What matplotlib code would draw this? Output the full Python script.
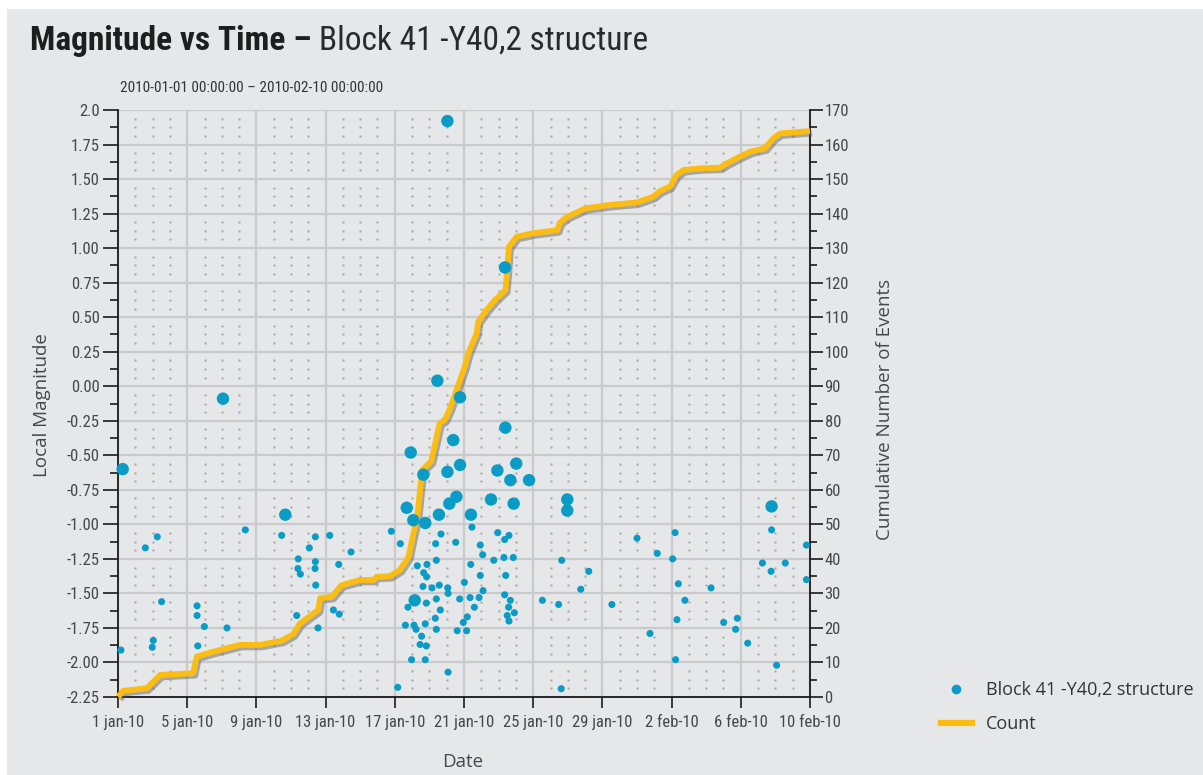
"""Magnitude vs time chart for the Block 41 -Y40,2 structure."""

import numpy as np
import matplotlib
matplotlib.use('Agg')
import matplotlib.pyplot as plt
import matplotlib.patheffects as pe
from matplotlib import font_manager
from matplotlib.lines import Line2D
from matplotlib.patches import Rectangle

# x values are days since 2010-01-01 00:00:00
x_ticks = [0, 4, 8, 12, 16, 20, 24, 28, 32, 36, 40]
x_labels = ['1 jan-10', '5 jan-10', '9 jan-10', '13 jan-10', '17 jan-10',
            '21 jan-10', '25 jan-10', '29 jan-10', '2 feb-10', '6 feb-10',
            '10 feb-10']

# larger events
big_days = [0.27, 6.07, 9.67, 16.69, 16.92, 17.07, 17.15, 17.65, 17.76, 18.46,
            18.55, 19.04, 19.04, 19.15, 19.38, 19.56, 19.77, 19.77, 20.40, 21.56,
            21.93, 22.37, 22.39, 22.68, 22.87, 23.02, 23.76, 25.97, 25.97, 37.78]
big_mags = [-0.60, -0.09, -0.93, -0.88, -0.48, -0.97, -1.55, -0.64, -0.99, 0.04,
            -0.93, 1.92, -0.62, -0.85, -0.39, -0.80, -0.08, -0.57, -0.93, -0.82,
            -0.61, 0.86, -0.30, -0.68, -0.85, -0.56, -0.68, -0.82, -0.90, -0.87]

# smaller events
small_days = [15.80, 16.32, 18.67, 18.36, 19.52, 20.46, 21.95, 22.60, 22.35, 20.94,
              21.08, 21.72, 22.31, 22.85, 18.40, 17.86, 17.30, 20.39, 17.67, 17.84,
              20.94, 22.41, 25.65, 20.02, 17.63, 18.15, 18.57, 19.06, 19.08, 21.10,
              22.35, 22.68, 19.75, 20.35, 20.87, 18.40, 17.82, 16.76, 18.63, 20.60,
              22.58, 22.91, 24.53, 25.47, 26.75, 20.19, 19.96, 18.34, 22.50, 22.60,
              17.76, 16.61, 17.11, 17.23, 18.40, 19.61, 20.15, 17.55, 17.46, 17.82,
              16.97, 17.76, 19.08, 16.17, 25.62,
              7.36, 2.27, 1.58, 9.46, 11.41, 12.24, 11.06, 13.47, 10.42, 11.41,
              10.40, 11.39, 10.54, 12.76, 11.43, 2.52, 4.57, 4.57, 4.99, 6.30,
              2.04, 1.98, 0.17, 4.61, 10.33, 12.45, 12.79, 11.56,
              32.20, 30.00, 31.17, 32.06, 37.78, 39.79, 37.25, 37.75, 38.57, 39.79,
              27.21, 32.39, 34.28, 28.55, 32.77, 32.31, 35.01, 35.80, 35.70, 30.75,
              36.40, 32.23, 38.07]
small_mags = [-1.05, -1.14, -1.07, -1.14, -1.13, -1.02, -1.06, -1.08, -1.11, -1.15,
              -1.22, -1.26, -1.24, -1.24, -1.26, -1.29, -1.30, -1.29, -1.35, -1.38,
              -1.37, -1.37, -1.26, -1.42, -1.45, -1.46, -1.44, -1.46, -1.50, -1.48,
              -1.51, -1.55, -1.54, -1.53, -1.53, -1.54, -1.57, -1.60, -1.62, -1.60,
              -1.60, -1.64, -1.55, -1.58, -1.47, -1.67, -1.71, -1.68, -1.66, -1.70,
              -1.72, -1.73, -1.73, -1.76, -1.76, -1.77, -1.77, -1.81, -1.87, -1.88,
              -1.98, -1.98, -2.07, -2.18, -2.19,
              -1.04, -1.09, -1.17, -1.08, -1.09, -1.08, -1.17, -1.20, -1.25, -1.27,
              -1.32, -1.32, -1.36, -1.29, -1.44, -1.56, -1.59, -1.66, -1.74, -1.75,
              -1.84, -1.89, -1.91, -1.88, -1.66, -1.62, -1.65, -1.75,
              -1.06, -1.10, -1.21, -1.25, -1.04, -1.15, -1.28, -1.34, -1.28, -1.40,
              -1.34, -1.43, -1.46, -1.58, -1.55, -1.69, -1.71, -1.68, -1.76, -1.79,
              -1.86, -1.98, -2.02]

# cumulative number of events
count_days = [0.0, 0.3, 1.65, 2.45, 4.35, 4.55, 5.5, 7.05, 8.2, 9.46,
              10.13, 10.52, 11.58, 11.68, 12.35, 12.93, 13.99, 14.76, 14.95, 15.72,
              16.3, 16.8, 17.0, 17.3, 17.5, 17.6, 18.1, 18.6, 18.9, 19.2,
              20.05, 20.25, 20.73, 20.83, 21.3, 21.8, 22.4, 22.5, 22.6, 23.05,
              24.0, 25.4, 25.55, 25.94, 26.5, 27.0, 28.44, 29.98, 30.94, 31.33,
              31.91, 32.29, 32.68, 33.64, 34.8, 35.18, 35.95, 36.53, 37.4, 37.88,
              38.27, 40.0]
count_vals = [0, 1.8, 2.5, 6.4, 6.9, 11.7, 13.1, 15.1, 15.1, 16.3,
              18.2, 21.3, 25.2, 28.6, 29.0, 32.4, 33.9, 33.9, 34.8, 35.0,
              36.8, 40.6, 45.5, 52.2, 61.9, 65.8, 68.2, 79.3, 80.3, 83.6,
              95.7, 99.5, 105.3, 108.7, 112.1, 115.0, 117.9, 123.7, 130.4, 133.3,
              134.3, 135.2, 137.4, 139.0, 140.3, 141.5, 142.5, 143.2, 144.9, 146.5,
              147.8, 151.2, 152.6, 153.1, 153.3, 154.5, 156.5, 157.9, 158.9, 161.8,
              163.2, 163.9]

BG = '#e6e7e8'
GRID = '#c9cacc'
DOTS = '#a3a3a3'
BLUE = '#0a9cc6'
YELLOW = '#fbbd14'
TXT = '#474747'

available = {f.name for f in font_manager.fontManager.ttflist}


def pick(*names):
    for n in names:
        if n in available:
            return n
    return 'DejaVu Sans'


TICK_FONT = [pick('Roboto Condensed', 'Archivo Narrow', 'Fira Sans Condensed'), 'DejaVu Sans']
TITLE_FONT = [pick('Roboto Condensed', 'Barlow Semi Condensed', 'Fira Sans Condensed'),
              'DejaVu Sans']
LABEL_FONT = [pick('Open Sans', 'Noto Sans'), 'DejaVu Sans']
plt.rcParams['font.family'] = TICK_FONT

W, H = 1203, 775
fig = plt.figure(figsize=(W / 100, H / 100), dpi=100)
fig.patch.set_facecolor('white')
fig.add_artist(Rectangle((7 / W, 0), 1, 1 - 9 / H, transform=fig.transFigure,
                         facecolor=BG, edgecolor='none', zorder=-10))

# base axes: grid, dotted lattice and cumulative count (right axis)
ax_c = fig.add_axes([118 / W, 1 - 697 / H, 692 / W, 587 / H])
ax_c.set_facecolor(BG)
ax_c.set_xlim(0, 40)
ax_c.set_ylim(0, 170)
ax_c.set_axisbelow(True)
ax_c.grid(True, which='major', color=GRID, lw=1.6)

minor_days = [d for d in range(41) if d % 4]
lattice = [v for v in np.arange(0, 170, 2.5) if v % 10]
gx, gy = np.meshgrid(minor_days, lattice)
ax_c.plot(gx.ravel(), gy.ravel(), ls='none', marker='s', ms=1.4,
          mec='none', mfc=DOTS, zorder=0.8)

ax_c.plot(count_days, count_vals, color=YELLOW, lw=4.2, zorder=3,
          solid_joinstyle='round', solid_capstyle='butt', clip_on=False,
          path_effects=[pe.SimpleLineShadow(offset=(1.5, -1.8), shadow_color='#555555',
                                            alpha=0.45),
                        pe.Normal()])

# magnitude axes on top so events sit above the count line
ax_m = ax_c.twinx()
ax_c.yaxis.tick_right()
ax_c.yaxis.set_label_position('right')
ax_m.yaxis.tick_left()
ax_m.set_ylim(-2.25, 2.0)
mag_ticks = np.arange(-2.25, 2.01, 0.25)
mag_labels = [f'{v:.2f}'.replace('-0.00', '0.00') for v in mag_ticks]
mag_labels[-1] = '2.0'
ax_m.set_yticks(mag_ticks)
ax_m.set_yticklabels(mag_labels)
ax_m.set_yticks(np.arange(-2.125, 2.0, 0.25), minor=True)

ax_m.scatter(small_days, small_mags, s=26, color=BLUE, edgecolors='none',
             zorder=4, clip_on=False)
ax_m.scatter(big_days, big_mags, s=80, color=BLUE, edgecolors='none',
             zorder=4, clip_on=False)

ax_c.set_xticks(x_ticks)
ax_c.set_xticklabels(x_labels)
ax_c.set_yticks(range(0, 171, 10))
ax_c.set_yticks(range(5, 170, 10), minor=True)

for ax in (ax_c, ax_m):
    for s in ax.spines.values():
        s.set_visible(False)
for side in ('left', 'right', 'bottom'):
    ax_c.spines[side].set_visible(True)
    ax_c.spines[side].set_color('#1a1a1a')
    ax_c.spines[side].set_linewidth(1.3)

ax_m.tick_params(axis='y', which='major', length=11, width=1.2, pad=2,
                 labelsize=12, labelcolor=TXT, color='#1a1a1a')
ax_m.tick_params(axis='y', which='minor', length=5.5, width=1.2, color='#1a1a1a')
ax_c.tick_params(axis='y', which='major', length=9, width=1.2, pad=1.5,
                 labelsize=12, labelcolor=TXT, color='#1a1a1a')
ax_c.tick_params(axis='y', which='minor', length=5, width=1.2, color='#1a1a1a')
ax_c.tick_params(axis='x', which='major', length=8, width=1.2, pad=5,
                 labelsize=12, labelcolor=TXT, color='#1a1a1a')

# texts
fig.text(120 / W, 1 - 88 / H, '2010-01-01 00:00:00 \u2013 2010-02-10 00:00:00',
         fontsize=11, color='#333333', va='center', ha='left')
fig.text(42 / W, 1 - 405 / H, 'Local Magnitude', rotation=90, fontsize=13.5,
         family=LABEL_FONT, color=TXT, ha='center', va='center')
fig.text(885 / W, 1 - 409 / H, 'Cumulative Number of Events', rotation=90,
         fontsize=13.5, family=LABEL_FONT, color=TXT, ha='center', va='center')
fig.text(463 / W, 1 - 762 / H, 'Date', fontsize=13.5, family=LABEL_FONT,
         color=TXT, ha='center', va='center')

t1 = fig.text(30 / W, 1 - 50 / H, 'Magnitude vs Time \u2013', fontsize=24,
              family=TITLE_FONT, fontweight='bold', color='#1e1e1e', va='baseline')
fig.canvas.draw()
bb = t1.get_window_extent()
fig.text((bb.x1 + 8) / W, 1 - 50 / H, 'Block 41 -Y40,2 structure', fontsize=24,
         family=TITLE_FONT, color='#2a2a2a', va='baseline')

handles = [Line2D([], [], ls='none', marker='o', ms=7, mfc=BLUE, mec='none'),
           Line2D([], [], color=YELLOW, lw=4.5)]
fig.legend(handles, ['Block 41 -Y40,2 structure', 'Count'],
           loc='center left', bbox_to_anchor=(932 / W, 1 - 707 / H),
           frameon=False, borderpad=0, handlelength=1.7, handletextpad=0.8,
           labelspacing=0.9, prop={'family': LABEL_FONT, 'size': 13},
           labelcolor='#333333')

fig.savefig('out.png', dpi=100, facecolor=fig.get_facecolor())
